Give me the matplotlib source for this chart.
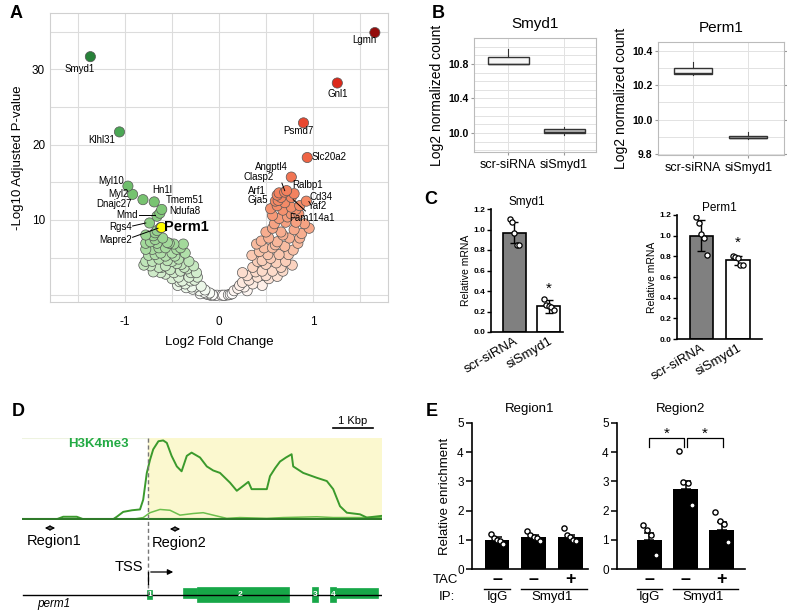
import matplotlib.pyplot as plt
import numpy as np
from matplotlib.colors import LinearSegmentedColormap, Normalize
from matplotlib.patches import Rectangle

plt.rcParams['font.family'] = ['Liberation Sans', 'DejaVu Sans']
plt.rcParams['axes.unicode_minus'] = False

W, H = 787, 610

# ---------------- data ----------------
# A: volcano (log2 fold change, -log10 adjusted p)
cloud_lfc = [-0.78, -0.73, -0.68, -0.78, -0.71, -0.64, -0.57, -0.78, -0.71, -0.64, -0.57, -0.50,
             -0.45, -0.73, -0.64, -0.57, -0.50, -0.43, -0.36, -0.32, -0.57, -0.48, -0.41, -0.34,
             -0.27, -0.39, -0.30, -0.23, -0.25, -0.16, -0.09, -0.78, -0.70, -0.80, -0.68, -0.43,
             -0.36, -0.29, -0.21, -0.14, -0.05, -0.37, -0.32, -0.61, -0.66, -0.60, -0.55, -0.48,
             -0.41, -0.52, -0.45, -0.28, -0.20, -0.12, -0.35, -0.42,
             -0.75, -0.66, -0.62, -0.55, -0.47, -0.40, -0.30, -0.26, -0.19, -0.10, -0.62, -0.50,
             -0.44, -0.70, -0.53, -0.38, -0.24, -0.15, -0.07, -0.02,
             0.64, 0.66, 0.77, 0.70, 0.62, 0.68, 0.77, 0.77, 0.57, 0.64, 0.71, 0.82, 0.91, 0.96,
             0.80, 0.86, 0.75, 0.66, 0.57, 0.50, 0.53, 0.62, 0.70, 0.57, 0.48, 0.43, 0.52, 0.64,
             0.71, 0.61, 0.50, 0.41, 0.36, 0.46, 0.57, 0.68, 0.30, 0.41, 0.53, 0.25, 0.36, 0.46,
             0.20, 0.30, 0.14, 0.07, 0.03, 0.10, 0.60, 0.73, 0.59, 0.68, 0.45, 0.40, 0.35, 0.62, 0.25,
             0.55, 0.72, 0.85, 0.88, 0.79, 0.74, 0.55, 0.46, 0.39, 0.50, 0.32, 0.22, 0.16, 0.60,
             0.78, 0.84, 0.66, 0.27, 0.12, 0.05]
cloud_padj = [6.9, 7.1, 7.4, 6.1, 6.1, 6.3, 6.3, 4.5, 4.5, 4.8, 5.2, 5.6,
              6.1, 3.9, 3.7, 3.9, 4.5, 4.8, 5.6, 4.5, 2.8, 3.0, 3.2, 3.5,
              3.9, 1.9, 1.9, 2.4, 1.1, 0.4, 0.0, 8.0, 7.9, 4.0, 5.4, 2.4,
              1.5, 1.1, 0.6, 0.2, 0.0, 3.7, 2.4, 3.7, 8.6, 7.6, 7.0, 6.8,
              6.3, 3.4, 4.2, 0.8, 0.2, 0.1, 1.0, 1.8,
              5.3, 6.9, 5.6, 4.6, 5.2, 4.1, 3.0, 2.0, 1.2, 0.3, 3.0, 2.2,
              1.3, 3.1, 6.9, 6.8, 3.0, 0.7, 0.05, 0.0,
              13.6, 13.0, 13.0, 12.3, 11.9, 11.3, 11.7, 10.8, 10.6, 10.2, 9.7, 9.7, 9.5, 8.9,
              8.7, 7.6, 7.6, 8.4, 8.9, 8.4, 7.6, 7.1, 6.5, 6.3, 6.3, 5.8, 5.4, 5.4,
              4.5, 4.3, 4.1, 4.5, 3.7, 3.2, 3.2, 3.2, 2.6, 2.4, 2.2, 1.7, 1.5, 1.3,
              0.9, 0.6, 0.2, 0.0, 0.0, 0.05, 12.5, 10.4, 9.5, 8.0, 7.2, 6.8, 5.3, 2.5, 3.0,
              11.5, 13.9, 10.8, 8.2, 6.0, 5.4, 4.9, 4.6, 3.1, 2.6, 2.0, 1.3, 0.6, 6.7,
              4.0, 6.9, 3.7, 1.1, 0.1, 0.0]

genes = ['Lgmn', 'Smyd1', 'Gnl1', 'Psmd7', 'Slc20a2', 'Klhl31', 'Angptl4', 'Clasp2', 'Arf1',
         'Gja5', 'Ralbp1', 'Cd34', 'Yaf2', 'Fam114a1', 'Myl10', 'Myl2', 'Dnajc27', 'Hn1l',
         'Tmem51', 'Ndufa8', 'Mmd', 'Rgs4', 'Perm1', 'Mapre2']
gene_lfc = [1.66, -1.37, 1.26, 0.90, 0.94, -1.06, 0.77, 0.70, 0.62,
            0.63, 0.80, 0.93, 0.86, 0.82, -0.97, -0.92, -0.81, -0.69,
            -0.61, -0.63, -0.66, -0.74, -0.62, -0.68]
gene_padj = [34.9, 31.7, 28.2, 22.9, 18.3, 21.7, 15.7, 13.7, 13.3,
             12.6, 13.5, 12.5, 11.9, 11.4, 14.5, 13.4, 12.7, 12.4,
             11.4, 10.9, 10.5, 9.6, 9.0, 8.3]

# B: log2 normalized counts (whislo, q1, median, q3, whishi)
groups = ['scr-siRNA', 'siSmyd1']
smyd1_counts = [[10.80, 10.80, 10.80, 10.88, 10.97], [9.98, 10.00, 10.01, 10.05, 10.07]]
perm1_counts = [[10.26, 10.265, 10.268, 10.30, 10.335], [9.888, 9.89, 9.893, 9.905, 9.925]]

# C: relative mRNA
smyd1_mean = [0.97, 0.25]
smyd1_sd = [0.10, 0.06]
smyd1_pts = [[1.10, 1.07, 0.97, 0.85, 0.85], [0.32, 0.26, 0.25, 0.24, 0.21]]
perm1_mean = [1.00, 0.76]
perm1_sd = [0.15, 0.04]
perm1_pts = [[1.18, 1.12, 1.02, 0.98, 0.81], [0.80, 0.79, 0.78, 0.72, 0.72]]

# D: H3K4me3 tracks (kb from TSS)
sig_x = [-2.99, -2.28, -2.12, -1.78, -1.62, -0.87, -0.78, -0.62, -0.40, -0.20, -0.12, -0.03, 0.05,
         0.13, 0.26, 0.38, 0.47, 0.59, 0.72, 0.84, 0.97, 1.09, 1.30, 1.47, 1.63, 1.80, 2.05, 2.22,
         2.38, 2.51, 2.59, 2.97, 3.05, 3.18, 3.30, 3.45, 3.59, 3.63, 3.88, 4.05, 4.22, 4.47, 4.63,
         4.80, 4.97, 5.30, 5.47, 5.83]
sig_h3k4 = [0.0, 0.0, 0.03, 0.03, 0.0, 0.0, 0.03, 0.09, 0.11, 0.12, 0.24, 0.57, 0.73,
            0.86, 0.96, 0.97, 0.94, 0.78, 0.65, 0.59, 0.78, 0.82, 0.76, 0.65, 0.60, 0.57, 0.45, 0.35,
            0.41, 0.46, 0.37, 0.37, 0.53, 0.63, 0.71, 0.76, 0.80, 0.65, 0.57, 0.54, 0.51, 0.47, 0.37,
            0.16, 0.08, 0.06, 0.02, 0.04]
ctl_x = [-2.99, -0.37, -0.12, 0.05, 0.30, 0.55, 0.80, 1.13, 1.38, 1.63, 1.97, 2.30, 2.97, 3.38,
         4.22, 4.63, 5.83]
ctl_sig = [0.0, 0.0, 0.02, 0.08, 0.12, 0.11, 0.05, 0.07, 0.08, 0.05, 0.01, 0.02, 0.01, 0.02,
           0.03, 0.02, 0.02]
exons = ['1', '2', '3', '4']

# E: ChIP relative enrichment
ip_labels = ['IgG', 'Smyd1']
tac_signs = ['\u2013', '\u2013', '+']
r1_mean = [1.00, 1.08, 1.08]
r1_sem = [0.08, 0.07, 0.09]
r1_pts = [[1.20, 1.05, 1.00, 0.97, 0.85], [1.30, 1.15, 1.10, 1.05, 0.95], [1.40, 1.15, 1.10, 1.00, 0.95]]
r2_mean = [1.00, 2.75, 1.35]
r2_sem = [0.22, 0.25, 0.25]
r2_pts = [[1.50, 1.35, 1.15, 0.47], [4.05, 2.98, 2.95, 2.18], [1.96, 1.65, 1.55, 0.93]]

# ---------------- figure ----------------
fig = plt.figure(figsize=(W / 100, H / 100), dpi=100)


def px_axes(l, t, r, b):
    return fig.add_axes([l / W, 1 - b / H, (r - l) / W, (b - t) / H])


# panel letters
for s, x, y in [('A', 10, 14), ('B', 432, 14), ('C', 424, 200), ('D', 12, 412), ('E', 426, 412)]:
    fig.text(x / W, 1 - y / H, s, fontsize=13, fontweight='bold', va='center', ha='left')

# ---- A ----
ax = px_axes(50, 13, 388, 302)
cmap = LinearSegmentedColormap.from_list('volc', [
    (0.0, '#17692c'), (0.083, '#2e8b3e'), (0.222, '#52ad5a'), (0.333, '#7cc674'),
    (0.417, '#aadca2'), (0.472, '#dff2da'), (0.5, '#ffffff'), (0.528, '#fde6da'),
    (0.583, '#f9c2a8'), (0.667, '#f48c68'), (0.778, '#ee5a3c'), (0.889, '#e02a1c'),
    (1.0, '#8b0a0a')])
norm = Normalize(-36, 36)
all_x = np.array(cloud_lfc + gene_lfc)
all_y = np.array(cloud_padj + gene_padj)
order = np.argsort(all_y)
cols = [cmap(norm(np.sign(all_x[i]) * all_y[i])) for i in order]
ax.scatter(all_x[order], all_y[order], s=54, c=cols, edgecolors='#555555', linewidths=0.5, zorder=3)
pi = genes.index('Perm1')
ax.scatter([gene_lfc[pi]], [gene_padj[pi]], s=54, c='#ffff00', edgecolors='#555555', linewidths=0.6, zorder=4)

ax.set_xticks([-1, 0, 1])
ax.set_xticks([-1.5, -0.5, 0.5, 1.5], minor=True)
ax.set_yticks([10, 20, 30])
ax.set_yticks([0, 5, 15, 25, 35], minor=True)
ax.set_xlim(-1.8, 1.8)
ax.set_ylim(-0.9, 37.5)
ax.grid(True, which='both', color='#dcdcdc', linewidth=0.8, zorder=0)
ax.set_axisbelow(True)
ax.tick_params(which='both', length=0, labelsize=8.5)
ax.tick_params(axis='x', pad=10)
for sp in ax.spines.values():
    sp.set_color('#d0d0d0')
ax.set_xlabel('Log2 Fold Change', fontsize=9.5, labelpad=6)
ax.set_ylabel('-Log10 Adjusted P-value', fontsize=9.5, labelpad=6)

label_pos = {
    'Lgmn': (1.55, 33.9, 'center'), 'Smyd1': (-1.48, 30.1, 'center'), 'Gnl1': (1.26, 26.8, 'center'),
    'Psmd7': (0.845, 21.8, 'center'), 'Slc20a2': (0.99, 18.4, 'left'), 'Klhl31': (-1.25, 20.6, 'center'),
    'Angptl4': (0.556, 17.1, 'center'), 'Clasp2': (0.417, 15.7, 'center'), 'Arf1': (0.406, 13.9, 'center'),
    'Gja5': (0.417, 12.6, 'center'), 'Ralbp1': (0.78, 14.7, 'left'), 'Cd34': (0.96, 13.1, 'left'),
    'Yaf2': (0.95, 11.8, 'left'), 'Fam114a1': (0.75, 10.3, 'left'), 'Myl10': (-1.016, 15.2, 'right'),
    'Myl2': (-0.96, 13.5, 'right'), 'Dnajc27': (-0.93, 12.1, 'right'), 'Hn1l': (-0.61, 14.0, 'center'),
    'Tmem51': (-0.567, 12.6, 'left'), 'Ndufa8': (-0.535, 11.2, 'left'), 'Mmd': (-0.866, 10.65, 'right'),
    'Rgs4': (-0.93, 9.0, 'right'), 'Perm1': (-0.588, 9.0, 'left'), 'Mapre2': (-0.93, 7.3, 'right'),
}
for g in genes:
    tx, ty, ha = label_pos[g]
    if g == 'Perm1':
        ax.text(tx, ty, g, fontsize=10.5, fontweight='bold', ha=ha, va='center', zorder=5)
    else:
        ax.text(tx, ty, g, fontsize=7, ha=ha, va='center', zorder=5)
for (x0, y0), (x1, y1) in [((-0.85, 10.65), (-0.68, 10.65)), ((-0.92, 9.2), (-0.78, 9.6)),
                           ((-0.92, 7.7), (-0.65, 8.9)), ((0.67, 14.9), (0.70, 13.9)),
                           ((0.79, 12.7), (0.92, 11.2))]:
    ax.plot([x0, x1], [y0, y1], color='black', lw=0.7, zorder=5)

# ---- B ----
def box_panel(rect, counts, title, xlim, ylim, yticks, width, right_ticks):
    axb = px_axes(*rect)
    stats = [dict(whislo=c[0], q1=c[1], med=c[2], q3=c[3], whishi=c[4], fliers=[]) for c in counts]
    bp = axb.bxp(stats, positions=[1, 2], widths=width, patch_artist=True, showfliers=False,
                 showcaps=False,
                 boxprops=dict(facecolor='#f6f6f6', edgecolor='#333333', linewidth=1.0),
                 medianprops=dict(color='#333333', linewidth=1.0),
                 whiskerprops=dict(color='#333333', linewidth=0.8))
    bp['boxes'][1].set_facecolor('#c4c4c4')
    axb.set_yticks(yticks)
    axb.set_yticklabels(['%.1f' % v for v in yticks], fontsize=7.5, fontweight='bold')
    minor = [v for v in np.arange(9.7, 11.2, 0.1) if ylim[0] < v < ylim[1]]
    axb.set_yticks(minor, minor=True)
    axb.set_xticks([1, 2])
    axb.set_xticklabels(groups, fontsize=9)
    axb.set_xlim(*xlim)
    axb.set_ylim(*ylim)
    axb.grid(True, which='both', color='#e2e2e2', linewidth=0.7)
    axb.set_axisbelow(True)
    axb.tick_params(which='both', length=2, color='#999999', pad=2)
    axb.tick_params(which='minor', length=0)
    axb.tick_params(axis='x', pad=3)
    if right_ticks:
        axb.tick_params(right=True)
    for sp in axb.spines.values():
        sp.set_color('#bbbbbb')
    axb.set_title(title, fontsize=11, pad=7)
    axb.set_ylabel('Log2 normalized count', fontsize=10, labelpad=3)
    return axb


box_panel((474, 38, 596, 152), smyd1_counts, 'Smyd1', (0.39, 2.57), (9.78, 11.10),
          [10.0, 10.4, 10.8], 0.73, False)
box_panel((658, 42, 784, 155), perm1_counts, 'Perm1', (0.36, 2.65), (9.794, 10.45),
          [9.8, 10.0, 10.2, 10.4], 0.69, True)

# ---- C ----
def mrna_panel(rect, mean, sd, pts, title, xlim, width, star_y):
    axc = px_axes(*rect)
    axc.bar([0, 1], mean, width=width, color=['#808080', 'white'], edgecolor='black',
            linewidth=1.2, zorder=2)
    axc.errorbar([0, 1], mean, yerr=sd, fmt='none', ecolor='black', elinewidth=1, capsize=3,
                 capthick=1, zorder=3)
    for i, p in enumerate(pts):
        n = len(p)
        off = np.linspace(-0.14, 0.14, n)
        axc.scatter(i + off, p, s=14, facecolors='white', edgecolors='black', linewidths=0.9, zorder=4)
    axc.text(1, star_y, '*', ha='center', va='center', fontsize=11)
    axc.set_xlim(*xlim)
    axc.set_ylim(0, 1.2)
    axc.set_yticks(np.arange(0, 1.21, 0.2))
    axc.set_yticklabels(['%.1f' % v for v in np.arange(0, 1.21, 0.2)], fontsize=6, fontweight='bold')
    axc.set_xticks([0, 1])
    axc.set_xticklabels(groups, rotation=30, ha='right', rotation_mode='anchor', fontsize=9.5)
    axc.tick_params(axis='x', length=0, pad=2)
    axc.tick_params(axis='y', length=3, width=1, pad=1)
    for s in ['top', 'right']:
        axc.spines[s].set_visible(False)
    for s in ['left', 'bottom']:
        axc.spines[s].set_linewidth(1.2)
    axc.set_title(title, fontsize=8.5, pad=3)
    axc.set_ylabel('Relative mRNA', fontsize=7.5, labelpad=2)


mrna_panel((491, 209, 563, 332), smyd1_mean, smyd1_sd, smyd1_pts, 'Smyd1', (-0.68, 1.41), 0.67, 0.42)
mrna_panel((677, 215, 762, 339), perm1_mean, perm1_sd, perm1_pts, 'Perm1', (-0.67, 1.66), 0.64, 0.93)

# ---- D ----
XL = (-3.15, 5.85)
axs = px_axes(22, 438, 382, 520)
axs.axvspan(0, XL[1], color='#fbf8cf', zorder=0)
axs.plot([XL[0], 0], [1, 1], color='#eef3e0', lw=0.8)
axs.plot(sig_x, sig_h3k4, color='#3b9a2c', lw=1.4, zorder=3)
axs.plot(ctl_x, ctl_sig, color='#6cbf4c', lw=1.1, zorder=2)
axs.axhline(0, color='#2f7a2a', lw=1.5, zorder=4)
axs.set_xlim(*XL)
axs.set_ylim(-0.01, 1.0)
axs.axis('off')

axd = px_axes(22, 400, 382, 610)
axd.set_xlim(*XL)
axd.set_ylim(610, 400)
axd.axis('off')
axd.patch.set_alpha(0)
axd.plot([0, 0], [438, 597], color='#777777', lw=1, ls=(0, (3, 2)))
axd.text(-1.25, 444, 'H3K4me3', color='#22aa44', fontsize=9.5, fontweight='bold', ha='center', va='center')
axd.plot([4.625, 5.625], [428, 428], color='black', lw=1.2)
axd.text(5.125, 421, '1 Kbp', fontsize=8, ha='center', va='center')
axd.annotate('', xy=(-2.25, 528), xytext=(-2.65, 528),
             arrowprops=dict(arrowstyle='<->', color='black', lw=0.9, mutation_scale=7))
axd.annotate('', xy=(0.875, 529), xytext=(0.475, 529),
             arrowprops=dict(arrowstyle='<->', color='black', lw=0.9, mutation_scale=7))
axd.text(-3.02, 541, 'Region1', fontsize=10.5, ha='left', va='center')
axd.text(0.1, 543, 'Region2', fontsize=10.5, ha='left', va='center')
axd.text(-0.12, 567, 'TSS', fontsize=10.5, ha='right', va='center')
axd.plot([0, 0], [584, 572], color='black', lw=0.9)
axd.annotate('', xy=(0.7, 572), xytext=(0, 572),
             arrowprops=dict(arrowstyle='-|>', color='black', lw=0.9, mutation_scale=8))
axd.plot([XL[0] + 0.02, XL[1] - 0.02], [595, 595], color='black', lw=1)
ex_green = '#17a748'
# exon blocks: (start kb, end kb, top px, height px)
for x0, x1, top, h in [(-0.03, 0.10, 590.5, 9), (0.875, 1.225, 587.7, 10.3), (1.225, 3.525, 586.7, 15.6),
                       (4.11, 4.26, 586.7, 15.6), (4.55, 4.70, 586.7, 15.6), (4.70, 5.76, 587.7, 10.3)]:
    axd.add_patch(Rectangle((x0, top), x1 - x0, h, facecolor=ex_green, edgecolor=ex_green, lw=0.5))
for lab, xc, yc in zip(exons, [0.035, 2.3, 4.185, 4.625], [595, 594.5, 594.5, 594.5]):
    axd.text(xc, yc, lab, color='white', fontsize=6, fontweight='bold', ha='center', va='center')
axd.text(-2.78, 604, 'perm1', fontsize=8.5, style='italic', ha='left', va='center')

# ---- E ----
def chip_panel(rect, mean, sem, pts, title, xlim, width, ylabel):
    axe = px_axes(*rect)
    axe.bar([0, 1, 2], mean, width=width, color='black', zorder=2)
    axe.errorbar([0, 1, 2], mean, yerr=[[0, 0, 0], sem], fmt='none', ecolor='black',
                 elinewidth=1.1, capsize=3.5, capthick=1.1, zorder=3)
    for i, p in enumerate(pts):
        off = np.linspace(-0.17, 0.17, len(p))
        axe.scatter(i + off, p, s=14, facecolors='white', edgecolors='black', linewidths=1, zorder=4)
    axe.set_xlim(*xlim)
    axe.set_ylim(0, 5)
    axe.set_yticks(range(6))
    axe.tick_params(axis='y', labelsize=8.5, length=4, width=1.1, pad=2)
    axe.set_xticks([])
    for s in ['top', 'right']:
        axe.spines[s].set_visible(False)
    for s in ['left', 'bottom']:
        axe.spines[s].set_linewidth(1.2)
    axe.set_title(title, fontsize=9.5, pad=8)
    if ylabel:
        axe.set_ylabel('Relative enrichment', fontsize=9.5, labelpad=4)
    tr = axe.get_xaxis_transform()
    for i, sgn in enumerate(tac_signs):
        axe.text(i, -0.075, sgn, transform=tr, ha='center', va='center', fontsize=13, fontweight='bold')
    axe.plot([-0.35, 0.35], [-0.137, -0.137], transform=tr, color='black', lw=1, clip_on=False)
    axe.plot([0.65, 2.45], [-0.137, -0.137], transform=tr, color='black', lw=1, clip_on=False)
    axe.text(0, -0.19, ip_labels[0], transform=tr, ha='center', va='center', fontsize=9.5)
    axe.text(1.5, -0.19, ip_labels[1], transform=tr, ha='center', va='center', fontsize=9.5)
    return axe


chip_panel((472, 423, 588, 569), r1_mean, r1_sem, r1_pts, 'Region1', (-0.685, 2.49), 0.68, True)
ax2 = chip_panel((617, 423, 745, 569), r2_mean, r2_sem, r2_pts, 'Region2', (-0.9, 2.65), 0.69, False)
for x0, x1 in [(0.0, 0.97), (1.05, 2.04)]:
    ax2.plot([x0, x0, x1, x1], [4.17, 4.49, 4.49, 4.17], color='black', lw=0.9, clip_on=False)
    ax2.text((x0 + x1) / 2, 4.62, '*', ha='center', va='center', fontsize=11)
fig.text(445 / W, 1 - 580 / H, 'TAC', fontsize=9.5, ha='center', va='center')
fig.text(447 / W, 1 - 597 / H, 'IP:', fontsize=9.5, ha='center', va='center')

fig.savefig('out.png', dpi=100)
